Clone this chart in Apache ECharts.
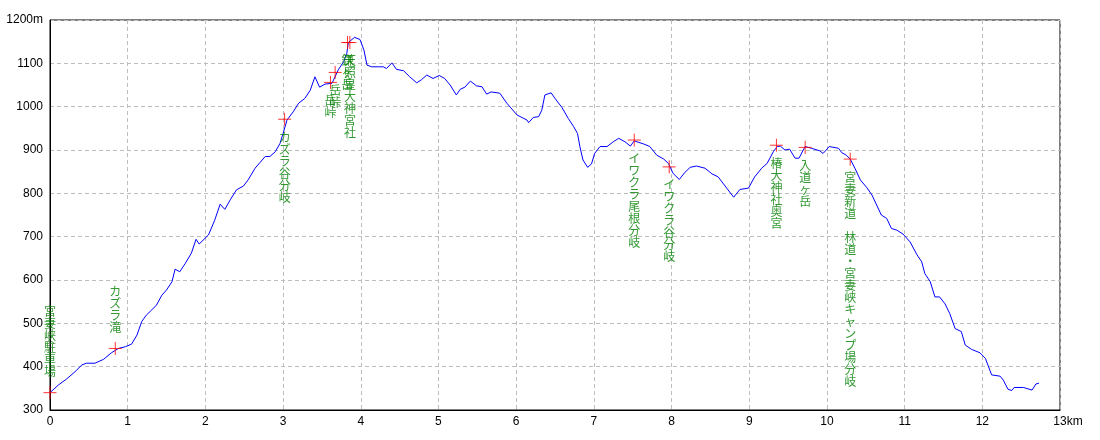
<!DOCTYPE html>
<html>
<head>
<meta charset="utf-8">
<script src="https://cdn.jsdelivr.net/npm/echarts@6/dist/echarts.min.js"></script>
<style>
html,body{margin:0;padding:0;background:#fff;}
#c{width:1100px;height:440px;}
</style>
</head>
<body>
<div id="c"></div>
<script>
// Elevation profile: distance (km) and elevation (m)
const distKm = [0.00,0.11,0.21,0.32,0.41,0.47,0.58,0.69,0.79,0.88,0.97,1.05,1.12,1.18,1.24,1.31,1.37,1.44,1.50,1.57,1.61,1.67,1.74,1.82,1.88,1.92,2.04,2.12,2.19,2.25,2.32,2.40,2.49,2.55,2.64,2.77,2.83,2.90,2.96,3.00,3.05,3.13,3.20,3.28,3.35,3.41,3.47,3.54,3.63,3.71,3.78,3.82,3.84,3.92,3.99,4.04,4.08,4.14,4.23,4.29,4.33,4.40,4.46,4.55,4.63,4.72,4.78,4.85,4.93,5.01,5.08,5.15,5.23,5.28,5.34,5.41,5.49,5.56,5.62,5.68,5.79,5.88,6.01,6.14,6.16,6.22,6.29,6.33,6.37,6.45,6.50,6.59,6.67,6.74,6.79,6.82,6.86,6.92,6.97,7.01,7.08,7.17,7.25,7.32,7.40,7.47,7.52,7.64,7.72,7.81,7.90,7.96,8.02,8.10,8.17,8.24,8.32,8.43,8.52,8.60,8.71,8.80,8.88,8.99,9.07,9.16,9.23,9.31,9.36,9.40,9.46,9.52,9.59,9.64,9.72,9.80,9.91,9.95,10.03,10.15,10.19,10.25,10.30,10.36,10.43,10.51,10.58,10.64,10.70,10.77,10.83,10.90,10.98,11.07,11.16,11.22,11.26,11.33,11.39,11.45,11.52,11.58,11.65,11.73,11.78,11.86,11.97,12.04,12.12,12.23,12.27,12.33,12.38,12.41,12.53,12.64,12.69,12.73];
const elevM = [340,358,371,388,404,408,408,417,432,442,446,452,473,504,519,531,542,565,577,596,625,619,638,662,694,683,704,738,775,763,785,808,817,831,858,885,885,896,915,938,969,988,1008,1019,1038,1069,1045,1052,1054,1085,1104,1123,1148,1160,1155,1131,1096,1092,1092,1092,1088,1101,1086,1083,1069,1055,1062,1073,1065,1072,1065,1050,1027,1040,1045,1059,1048,1046,1029,1034,1031,1008,981,969,963,975,977,992,1027,1032,1019,998,973,954,938,908,877,860,868,892,908,908,919,927,919,909,921,914,908,888,879,869,846,832,848,860,863,858,845,838,812,791,809,812,838,858,869,896,908,909,900,902,881,881,908,904,898,892,908,904,894,888,879,858,831,814,796,773,750,742,719,715,706,688,658,642,615,596,561,561,545,523,488,481,450,440,432,419,381,378,369,348,345,352,352,346,360,362];

// Waypoints
const wpKm   = [0.00, 0.84, 3.02, 3.61, 3.67, 3.83, 3.86, 7.52, 7.97, 9.35, 9.72, 10.30];
const wpElev = [340, 442, 971, 1056, 1079, 1148, 1148, 923, 861, 911, 906, 879];
const wpName = ['宮妻峡駐車場','カズラ滝','カズラ谷分岐','岳峠','岳峠','鎌ヶ岳','天照皇大神宮社','イワクラ尾根分岐','イワクラ谷分岐','椿大神社奥宮','入道ヶ岳','宮妻新道　林道・宮妻峡キャンプ場分岐'];

// Axis ticks
const xTicks = [0,1,2,3,4,5,6,7,8,9,10,11,12,13];
const yTicks = [300,400,500,600,700,800,900,1000,1100,1200];

const profile = distKm.map((d, i) => [d, elevM[i]]);
const vertical = s => s.split('').join('\n');
const waypoints = wpKm.map((d, i) => {
  const low = wpElev[i] < 500;
  return {
    value: [d, wpElev[i]],
    label: {
      formatter: vertical(wpName[i]),
      position: low ? 'top' : 'bottom',
      distance: low ? 8 : 5
    }
  };
});

const chart = echarts.init(document.getElementById('c'), null, {renderer: 'canvas'});
const axisFont = {color: '#000', fontFamily: 'Liberation Sans', fontSize: 12};
chart.setOption({
  animation: false,
  backgroundColor: '#fff',
  grid: {left: 50, right: 40, top: 20, bottom: 30, show: true, borderColor: '#000', borderWidth: 1, backgroundColor: 'transparent'},
  xAxis: {
    type: 'value', min: xTicks[0], max: xTicks[xTicks.length - 1], interval: 1,
    axisLine: {show: true, onZero: false, lineStyle: {color: '#000', width: 1}},
    axisTick: {show: false},
    splitLine: {show: true, lineStyle: {color: '#bdbdbd', type: [4, 3], width: 1}},
    axisLabel: Object.assign({}, axisFont, {
      margin: 6,
      formatter: v => v === xTicks[xTicks.length - 1] ? '{s| }{n|' + v + 'km}' : String(v),
      rich: {s: {width: 16, fontSize: 12}, n: {fontFamily: 'Liberation Sans', fontSize: 12, color: '#000'}}
    })
  },
  yAxis: {
    type: 'value', min: yTicks[0], max: yTicks[yTicks.length - 1], interval: 100,
    axisLine: {show: true, lineStyle: {color: '#000', width: 1}},
    axisTick: {show: false},
    splitLine: {show: true, lineStyle: {color: '#bdbdbd', type: [4, 3], width: 1}},
    axisLabel: Object.assign({}, axisFont, {
      margin: 7,
      formatter: v => v === yTicks[yTicks.length - 1] ? v + 'm' : String(v)
    })
  },
  series: [
    {
      type: 'line',
      data: profile,
      showSymbol: false,
      symbol: 'none',
      lineStyle: {color: '#0000ff', width: 1},
      z: 2
    },
    {
      type: 'scatter',
      data: waypoints,
      symbol: 'path://M0,6L12,6M6,0L6,12',
      symbolSize: 13,
      itemStyle: {color: 'rgba(0,0,0,0)', borderColor: '#ff0000', borderWidth: 1},
      label: {
        show: true,
        color: '#008000',
        fontFamily: 'Noto Sans CJK JP',
        fontSize: 12,
        lineHeight: 12,
        align: 'center'
      },
      labelLayout: {hideOverlap: false},
      emphasis: {disabled: true},
      z: 3
    }
  ]
});
</script>
</body>
</html>
